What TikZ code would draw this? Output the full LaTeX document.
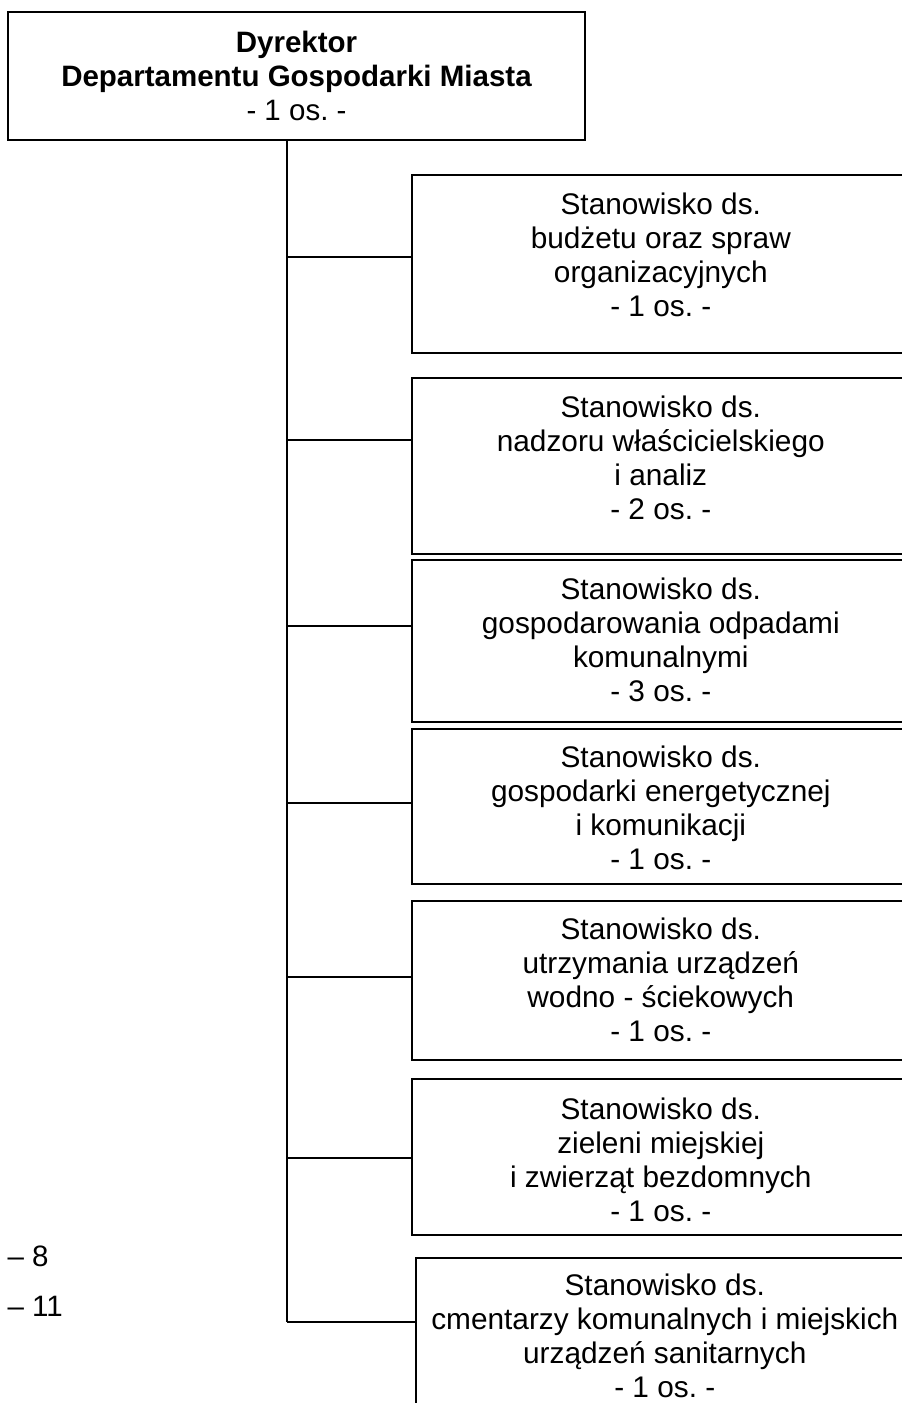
\documentclass[tikz,border=0pt]{standalone}
\usepackage{fontspec}
\setmainfont{Liberation Sans}
\usepackage{tikz}
\usetikzlibrary{positioning}
\frenchspacing

\tikzset{
  boss/.style={draw, line width=1.6pt, minimum width=577pt, minimum height=128pt,
    align=center, inner sep=0pt, font=\fontsize{29.5}{34}\selectfont\bfseries},
  post/.style={draw, line width=1.6pt, anchor=north west, minimum width=498pt, inner sep=0pt},
  posttxt/.style={align=center, inner sep=0pt, font=\fontsize{29.8}{34}\selectfont},
  link/.style={line width=1.6pt}
}

\begin{document}
\begin{tikzpicture}[x=1pt,y=-1pt]
 \useasboundingbox (0,0) rectangle (902,1403);
 \clip (0,0) rectangle (902,1403);
 %dyrektor
 \node[boss] (dyr) at (296.5,76) {Dyrektor\\Departamentu Gospodarki Miasta\\\mdseries - 1 os. -};
 %stanowiska
 \node[post, minimum height=178pt] (bud) at (411,174) {};
 \node[posttxt, below=19pt of bud.north] (budt) {Stanowisko ds.\\budżetu oraz spraw\\organizacyjnych\\- 1 os. -};
 \node[post, minimum height=176pt] (nad) at (411,377) {};
 \node[posttxt, below=19pt of nad.north] (nadt) {Stanowisko ds.\\nadzoru właścicielskiego\\i analiz\\- 2 os. -};
 \node[post, minimum height=162pt] (odp) at (411,559) {};
 \node[posttxt, below=19pt of odp.north] (odpt) {Stanowisko ds.\\gospodarowania odpadami\\komunalnymi\\- 3 os. -};
 \node[post, minimum height=155pt] (ene) at (411,728) {};
 \node[posttxt, below=18pt of ene.north] (enet) {Stanowisko ds.\\gospodarki energetycznej\\i komunikacji\\- 1 os. -};
 \node[post, minimum height=159pt] (wod) at (411,900) {};
 \node[posttxt, below=18pt of wod.north] (wodt) {Stanowisko ds.\\utrzymania urządzeń\\wodno - ściekowych\\- 1 os. -};
 \node[post, minimum height=156pt] (ziel) at (411,1078) {};
 \node[posttxt, below=20pt of ziel.north] (zielt) {Stanowisko ds.\\zieleni miejskiej\\i zwierząt bezdomnych\\- 1 os. -};
 \node[post, minimum height=160pt] (cme) at (415,1257) {};
 \node[posttxt, below=17pt of cme.north] (cmet) {Stanowisko ds.\\cmentarzy komunalnych i miejskich\\urządzeń sanitarnych\\- 1 os. -};
 %linie
 \coordinate (trunk) at (287,140);
 \coordinate (trunkend) at (287,1322);
 \draw[link] (trunk) -- (trunkend);
 \foreach \b/\y in {bud/257,nad/440,odp/626,ene/803,wod/977,ziel/1158,cme/1322}
   \draw[link] (trunk |- 0,\y) -- (\b.west |- 0,\y);
 %numery
 \node[anchor=west, font=\fontsize{29.5}{34}\selectfont] (n8) at (4,1256) {– 8};
 \node[anchor=west, font=\fontsize{29.5}{34}\selectfont] (n11) at (4,1306) {– 11};
\end{tikzpicture}
\end{document}
